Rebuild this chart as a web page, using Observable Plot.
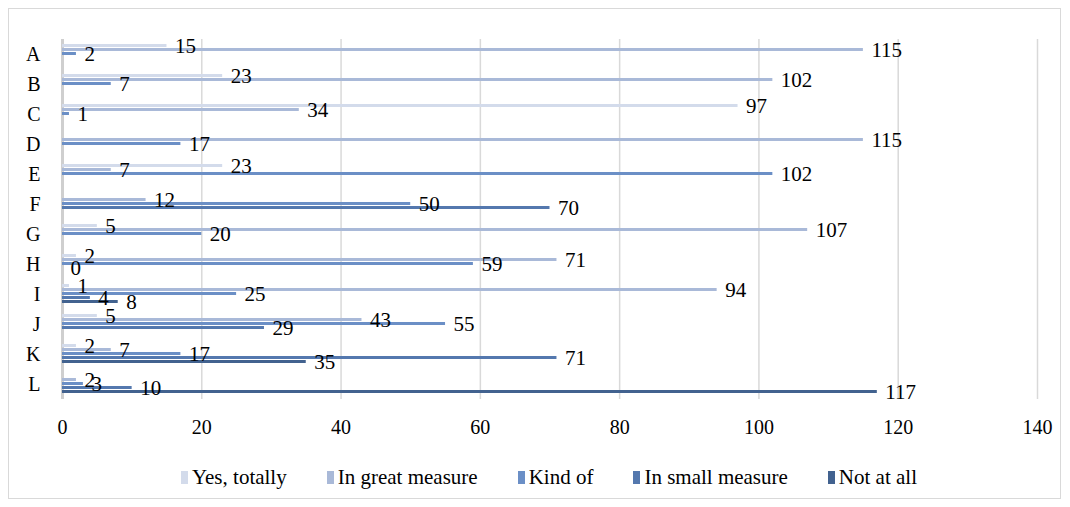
<!DOCTYPE html>
<html>
<head>
<meta charset="utf-8">
<script src="https://cdn.jsdelivr.net/npm/d3@7"></script>
<script src="https://cdn.jsdelivr.net/npm/@observablehq/plot@0.6"></script>
<style>
  html, body { margin: 0; padding: 0; background: #fff; }
  #wrap { position: relative; width: 1070px; height: 507px; font-family: "Liberation Serif", "Times New Roman", serif; }
  #frame { position: absolute; left: 8px; top: 8px; width: 1053px; height: 491px; border: 1px solid #d9d9d9; box-sizing: border-box; pointer-events: none; }
  #chart svg { display: block; }
  #legend { display: flex; justify-content: center; gap: 40px; margin-top: 20px; padding-left: 28px; font-size: 21px; line-height: 24px; color: #000; }
  #legend .item { display: flex; align-items: center; }
  #legend .sw { width: 7px; height: 13px; margin-right: 4px; }
</style>
</head>
<body>
<div id="wrap">
  <div id="frame"></div>
  <div id="chart"></div>
  <div id="legend"></div>
</div>
<script>
const categories = ["A", "B", "C", "D", "E", "F", "G", "H", "I", "J", "K", "L"];
const series = ["Yes, totally", "In great measure", "Kind of", "In small measure", "Not at all"];
const yesTotally     = [15, 23, 97, null, 23, null, 5, 2, 1, 5, 2, null];
const inGreatMeasure = [115, 102, 34, 115, 7, 12, 107, 71, 94, 43, 7, 2];
const kindOf         = [2, 7, 1, 17, 102, 50, 20, 59, 25, 55, 17, 3];
const inSmallMeasure = [null, null, null, null, null, 70, null, 0, 4, 29, 71, 10];
const notAtAll       = [null, null, null, null, null, null, null, null, 8, null, 35, 117];
const xTicks = [0, 20, 40, 60, 80, 100, 120, 140];
const colors = ["#d3dbeb", "#a9b9d8", "#6b8fc6", "#5478ae", "#42628f"];

const seriesValues = [yesTotally, inGreatMeasure, kindOf, inSmallMeasure, notAtAll];
const rows = [];
categories.forEach((cat, i) => {
  series.forEach((s, j) => {
    const v = seriesValues[j][i];
    if (v !== null) rows.push({cat, series: s, value: v});
  });
});

const chart = Plot.plot({
  width: 1070,
  height: 445,
  marginLeft: 62,
  marginRight: 33,
  marginTop: 35,
  marginBottom: 42,
  style: {fontFamily: "'Liberation Serif', 'Times New Roman', serif", fontSize: "20px", color: "#000", background: "transparent"},
  x: {domain: [0, 140]},
  fy: {domain: categories, padding: 0, label: null, axis: null},
  y: {domain: series, paddingInner: 0.2, paddingOuter: 1.15, axis: null},
  color: {domain: series, range: colors},
  marks: [
    Plot.gridX(xTicks, {stroke: "#d9d9d9", strokeOpacity: 1, strokeWidth: 1.5}),
    Plot.ruleX([0], {stroke: "#cfcfcf", strokeWidth: 3}),
    Plot.barX(rows, {x: "value", y: "series", fy: "cat", fill: "series"}),
    Plot.text(rows, {x: "value", y: "series", fy: "cat", text: d => String(d.value), textAnchor: "start", dx: 8, fontSize: 21, fill: "#000"}),
    Plot.axisX(xTicks, {tickSize: 0, tickPadding: 20, fontSize: 20, label: null, fill: "#000"}),
    Plot.axisFy({anchor: "left", tickSize: 0, tickPadding: 22, fontSize: 20, label: null, fill: "#000"})
  ]
});
document.getElementById("chart").appendChild(chart);

const legend = document.getElementById("legend");
series.forEach((s, j) => {
  const item = document.createElement("div");
  item.className = "item";
  const sw = document.createElement("span");
  sw.className = "sw";
  sw.style.background = colors[j];
  const t = document.createElement("span");
  t.textContent = s;
  item.appendChild(sw);
  item.appendChild(t);
  legend.appendChild(item);
});
</script>
</body>
</html>
